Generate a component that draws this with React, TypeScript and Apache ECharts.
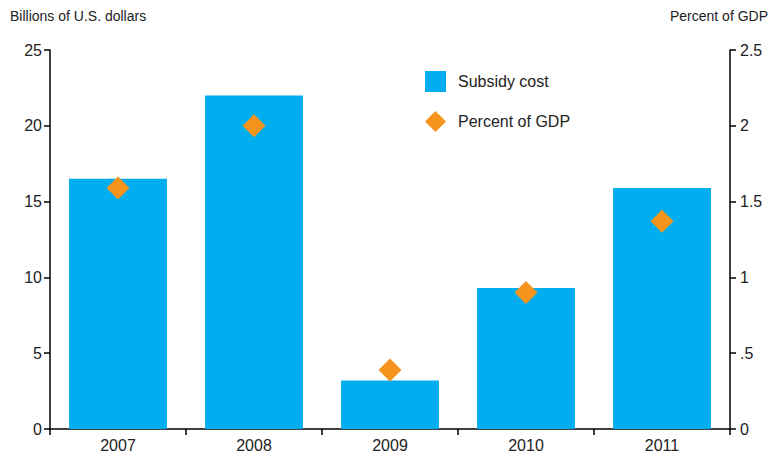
import React, { useEffect, useRef } from "react";
import * as echarts from "echarts";

const years = ["2007", "2008", "2009", "2010", "2011"];
const subsidyCost = [16.5, 22.0, 3.2, 9.3, 15.9];
const percentOfGDP = [1.59, 2.0, 0.39, 0.9, 1.37];

const FONT = "'Liberation Sans Narrow', 'Liberation Sans', sans-serif";

export default function App() {
  const ref = useRef<HTMLDivElement>(null);
  useEffect(() => {
    if (!ref.current) return;
    const chart = echarts.init(ref.current, null, { renderer: "svg" });
    chart.setOption({
      animation: false,
      textStyle: { fontFamily: FONT },
      grid: { left: 50, right: 46, top: 50, bottom: 28 },
      graphic: [
        { type: "text", left: 10, top: 9, style: { text: "Billions of U.S. dollars", font: `14px ${FONT}`, fill: "#222" } },
        { type: "text", right: 8, top: 9, style: { text: "Percent of GDP", font: `14px ${FONT}`, fill: "#222" } },
      ],
      legend: {
        orient: "vertical",
        left: 425,
        top: 71,
        padding: 0,
        itemWidth: 21,
        itemHeight: 21,
        itemGap: 19,
        textStyle: { fontFamily: FONT, fontSize: 16, color: "#222", padding: [0, 0, 0, 7] },
        data: [
          { name: "Subsidy cost", icon: "rect" },
          { name: "Percent of GDP", icon: "diamond" },
        ],
      },
      xAxis: {
        type: "category",
        data: years,
        axisLine: { lineStyle: { color: "#000", width: 1.5 } },
        axisTick: { show: true, length: 6, inside: false, alignWithLabel: false, lineStyle: { color: "#000", width: 1.5 } },
        axisLabel: { color: "#222", fontSize: 16, fontFamily: FONT, margin: 8 },
      },
      yAxis: [
        {
          type: "value",
          min: 0,
          max: 25,
          interval: 5,
          position: "left",
          splitLine: { show: false },
          axisLine: { show: true, lineStyle: { color: "#000", width: 1.5 } },
          axisTick: { show: true, length: 6, lineStyle: { color: "#000", width: 1.5 } },
          axisLabel: { color: "#222", fontSize: 16, fontFamily: FONT, margin: 8 },
        },
        {
          type: "value",
          min: 0,
          max: 2.5,
          interval: 0.5,
          position: "right",
          splitLine: { show: false },
          axisLine: { show: true, lineStyle: { color: "#000", width: 1.5 } },
          axisTick: { show: true, length: 6, lineStyle: { color: "#000", width: 1.5 } },
          axisLabel: {
            color: "#222",
            fontSize: 16,
            fontFamily: FONT,
            margin: 10,
            formatter: (v: number) => (v === 0 ? "0" : v < 1 ? String(v).replace(/^0/, "") : String(v)),
          },
        },
      ],
      series: [
        {
          name: "Subsidy cost",
          type: "bar",
          data: subsidyCost,
          barWidth: "72%",
          itemStyle: { color: "#00AEEF" },
          yAxisIndex: 0,
        },
        {
          name: "Percent of GDP",
          type: "scatter",
          data: percentOfGDP,
          yAxisIndex: 1,
          symbol: "diamond",
          symbolSize: [23, 23],
          itemStyle: { color: "#F7941D", opacity: 1 },
        },
      ],
    });
    return () => chart.dispose();
  }, []);
  return <div ref={ref} style={{ width: 776, height: 457, position: "absolute", left: 0, top: 0 }} />;
}
